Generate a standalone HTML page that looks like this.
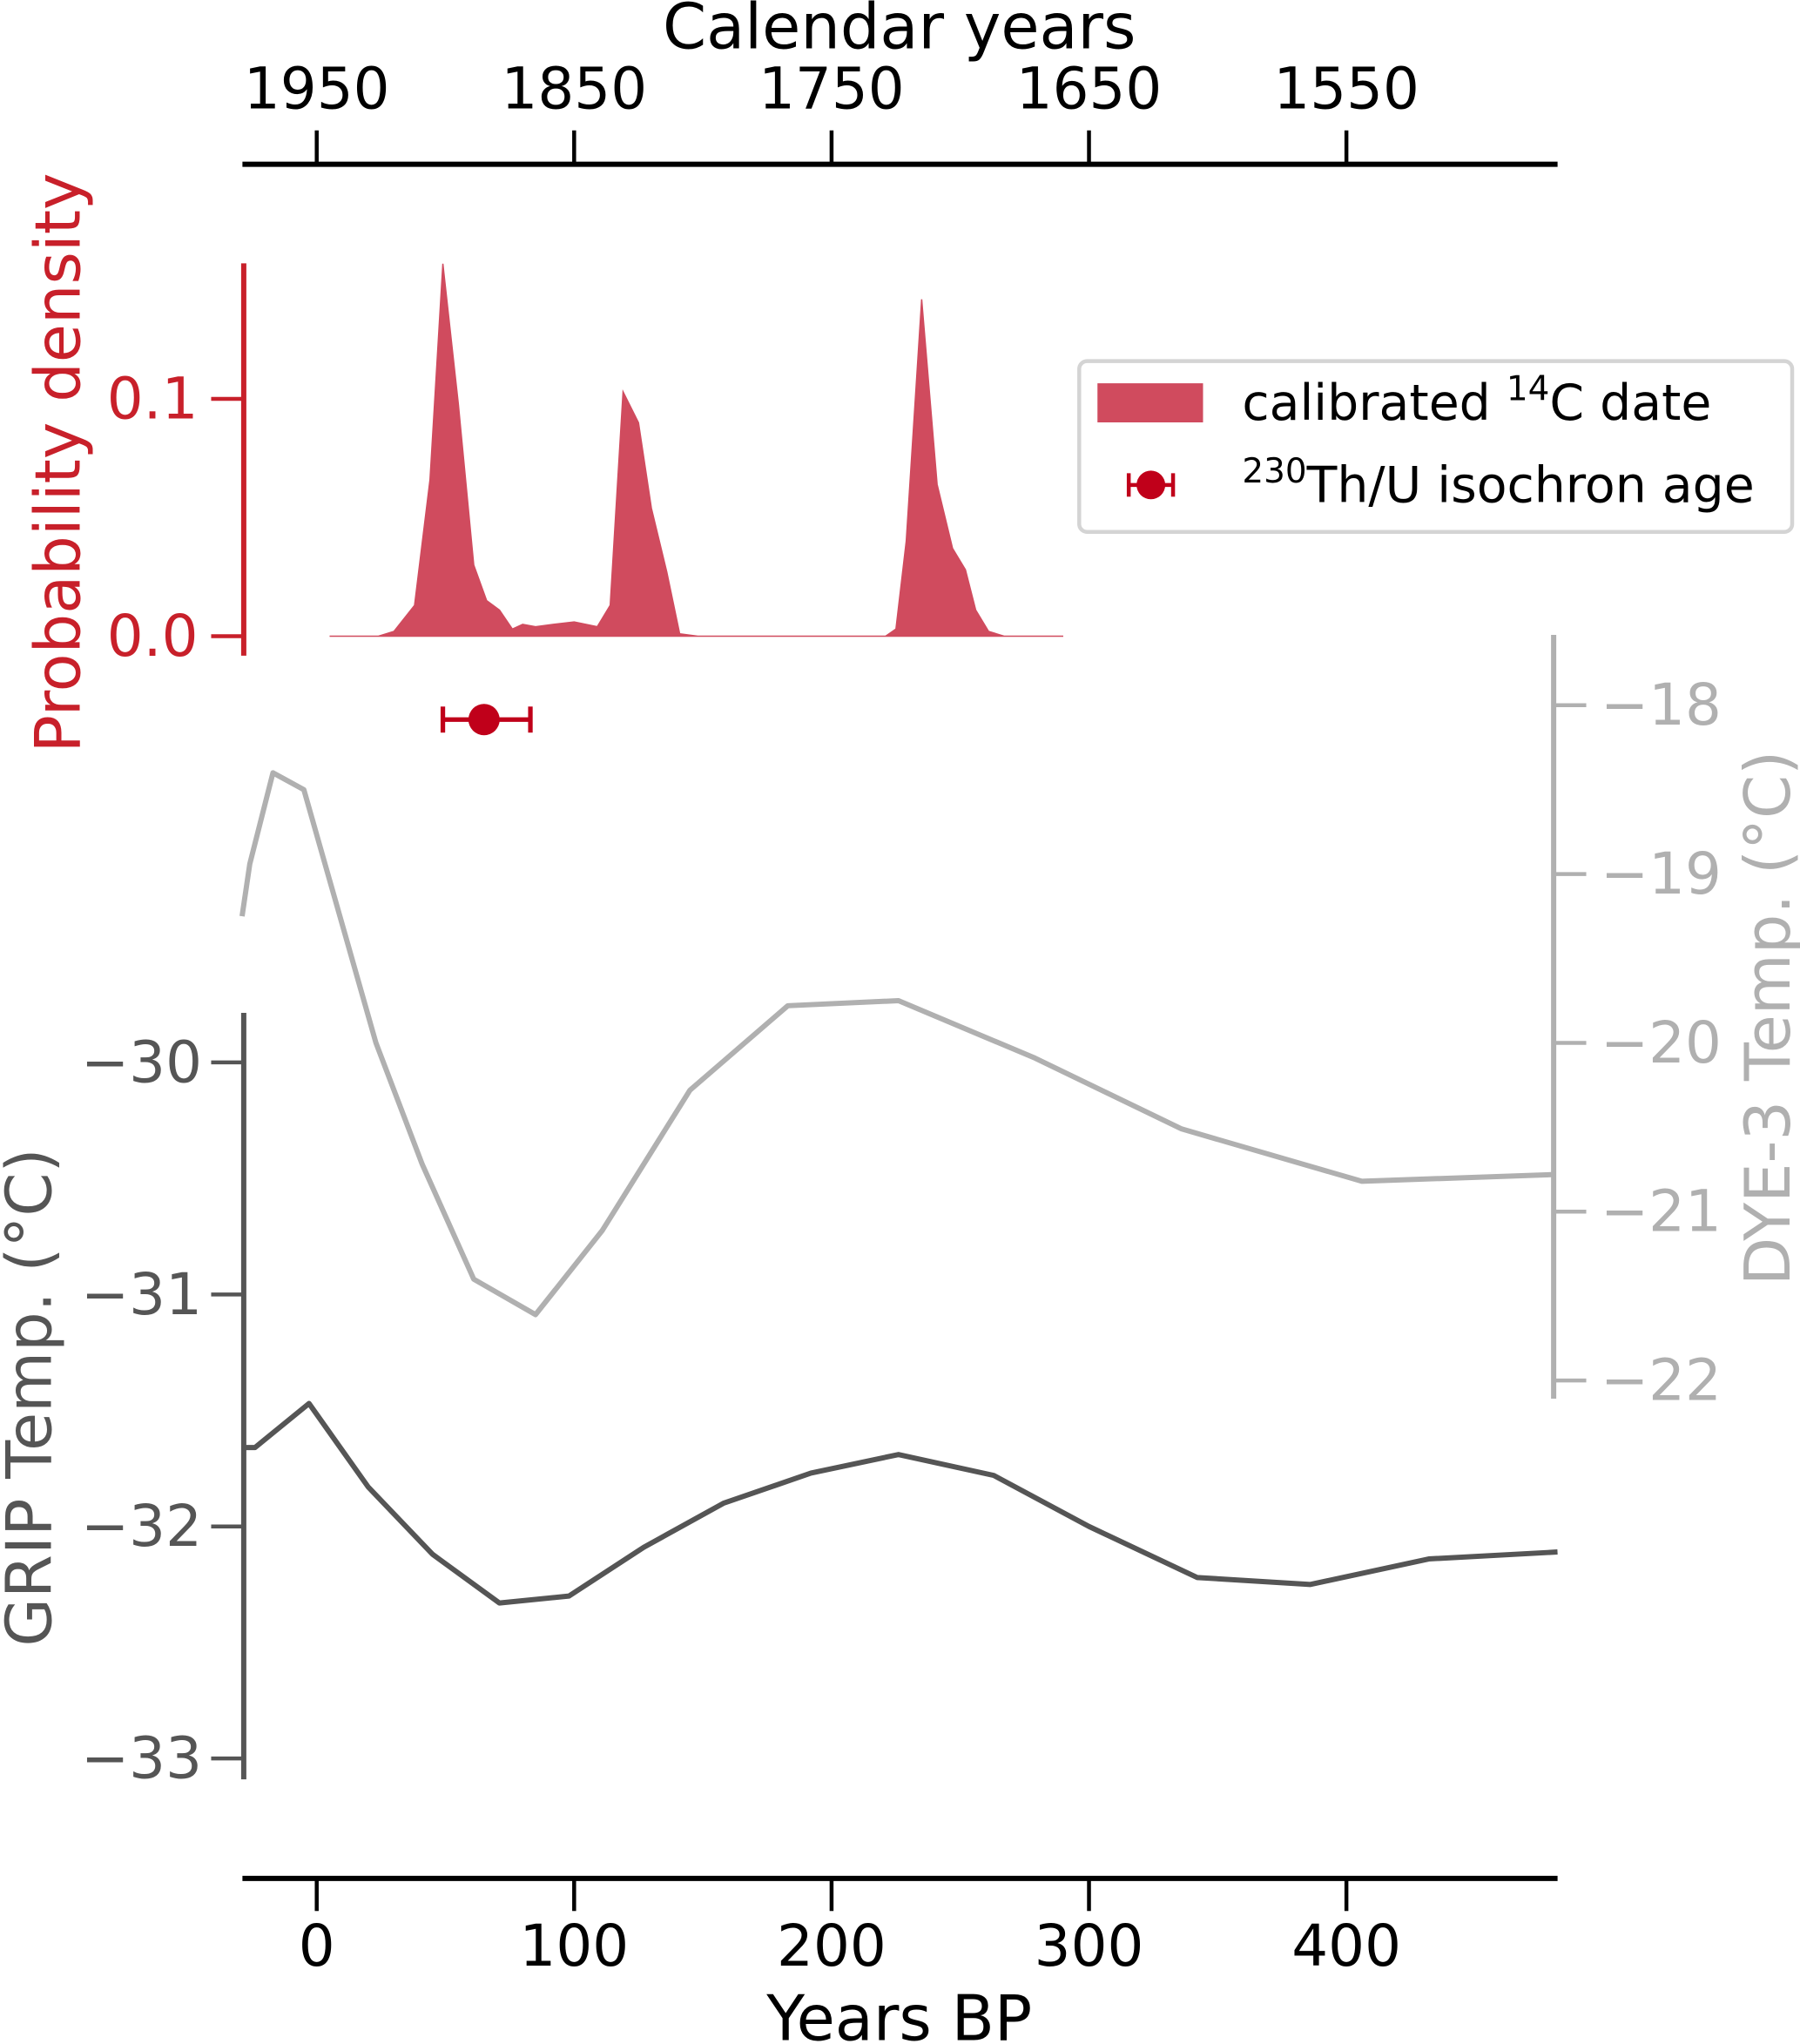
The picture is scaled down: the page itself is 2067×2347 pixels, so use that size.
<!DOCTYPE html>
<html><head><meta charset="utf-8"><style>
html,body{margin:0;padding:0;background:#fff;}
svg{display:block;font-family:"DejaVu Sans","Liberation Sans",sans-serif;}
</style></head><body>
<svg id="chart" width="2067" height="2347" viewBox="0 0 1381 1568" xmlns="http://www.w3.org/2000/svg"></svg>
<script>
// ---- data ----
const bpTicks = [0, 100, 200, 300, 400];
const calTicks = [1950, 1850, 1750, 1650, 1550];
const gripTicks = [-30, -31, -32, -33];
const dyeTicks = [-18, -19, -20, -21, -22];
const probTicks = [0.0, 0.1];
const gripYears = [-29, -24, -3, 20, 45, 71, 98, 127, 158, 192, 226, 263, 300, 342, 386, 432, 482];
const gripTemps = [-31.66, -31.66, -31.47, -31.83, -32.12, -32.33, -32.30, -32.09, -31.90, -31.77, -31.69, -31.78, -32.00, -32.22, -32.25, -32.14, -32.11];
const dyeYears = [-29, -26, -17, -5, 9, 23, 41, 61, 85, 111, 145, 183, 226, 279, 336, 406, 481];
const dyeTemps = [-19.25, -18.94, -18.40, -18.50, -19.25, -20.00, -20.72, -21.40, -21.61, -21.11, -20.28, -19.78, -19.75, -20.09, -20.51, -20.82, -20.78];
const probYears = [5, 24, 30, 38, 44, 49, 55, 61, 66, 71, 76, 80, 85, 92, 100, 109, 114, 119, 125, 130, 136, 141, 148, 221, 225, 229, 235, 241, 247, 252, 256, 261, 267, 290];
const probVals = [0, 0, 0.002, 0.013, 0.066, 0.157, 0.098, 0.030, 0.015, 0.011, 0.003, 0.005, 0.004, 0.005, 0.006, 0.004, 0.013, 0.103, 0.090, 0.054, 0.027, 0.001, 0, 0, 0.003, 0.040, 0.142, 0.064, 0.037, 0.028, 0.011, 0.002, 0, 0];
const thAge = [65];
const thErr = [16, 18];
// ---- scales ----
const X = bp => 243 + bp * 1.975;
const Ygrip = t => 815 - (t + 30) * 178;
const Ydye = t => 541 - (t + 18) * 129.5;
const Yprob = p => 488 - p * 1820;
const svg = document.getElementById('chart');
const NS = 'http://www.w3.org/2000/svg';
function mk(tag, attrs, text){const e=document.createElementNS(NS,tag);for(const k in attrs)e.setAttribute(k,attrs[k]);if(text!==undefined)e.textContent=text;svg.appendChild(e);return e;}
const TF = 44, TT = 48;
// top axis
let e = mk('line',{x1:186,y1:126,x2:1195,y2:126,stroke:'#000','stroke-width':4});


calTicks.forEach((c,i)=>{
  const x = X(1950 - c);
  let t = mk('line',{x1:x,y1:100,x2:x,y2:126,stroke:'#000','stroke-width':3});
  
  
  let l = mk('text',{x:x,y:83,'font-size':TF,'text-anchor':'middle',fill:'#000'},String(c));
  
  
});
e = mk('text',{x:690,y:37,'font-size':TT,'text-anchor':'middle',fill:'#000'},'Calendar years');


// bottom axis
e = mk('line',{x1:186,y1:1441,x2:1195,y2:1441,stroke:'#000','stroke-width':4});


bpTicks.forEach(b=>{
  const x = X(b);
  let t = mk('line',{x1:x,y1:1441,x2:x,y2:1466,stroke:'#000','stroke-width':3});
  
  
  let l = mk('text',{x:x,y:1508,'font-size':TF,'text-anchor':'middle',fill:'#000'},String(b));
  
  
});
e = mk('text',{x:690,y:1565,'font-size':TT,'text-anchor':'middle',fill:'#000'},'Years BP');


// probability axis
const red = '#c8202a';
e = mk('line',{x1:187,y1:202,x2:187,y2:503,stroke:red,'stroke-width':4});


probTicks.forEach(p=>{
  const y = Yprob(p);
  let t = mk('line',{x1:162,y1:y,x2:187,y2:y,stroke:red,'stroke-width':3});
  
  
  let l = mk('text',{x:152,y:y+15,'font-size':TF,'text-anchor':'end',fill:red},p.toFixed(1));
  
  
});
e = mk('text',{x:0,y:0,'font-size':TT,'text-anchor':'middle',fill:red,transform:'translate(61,355) rotate(-90)'},'Probability density');


// density area
let d = 'M' + X(probYears[0]) + ',' + Yprob(0);
probYears.forEach((b,i)=>{ d += ' L' + X(b) + ',' + Yprob(probVals[i]); });
d += ' L' + X(probYears[probYears.length-1]) + ',' + Yprob(0) + ' Z';
e = mk('path',{d:d,fill:'#d04b5e',stroke:'#d04b5e','stroke-width':1});


// Th/U point
const thRed = '#c0001a';
const ty = 552;
e = mk('line',{x1:X(thAge[0]-thErr[0]),y1:ty,x2:X(thAge[0]+thErr[1]),y2:ty,stroke:thRed,'stroke-width':3.5});


[thAge[0]-thErr[0], thAge[0]+thErr[1]].forEach(v=>{
  let c = mk('line',{x1:X(v),y1:ty-10,x2:X(v),y2:ty+10,stroke:thRed,'stroke-width':3.5});
  
  
});
e = mk('circle',{cx:X(thAge[0]),cy:ty,r:12,fill:thRed});


// GRIP axis
const dark = '#555555';
e = mk('line',{x1:187,y1:777,x2:187,y2:1365,stroke:dark,'stroke-width':4});


gripTicks.forEach(g=>{
  const y = Ygrip(g);
  let t = mk('line',{x1:162,y1:y,x2:187,y2:y,stroke:dark,'stroke-width':3});
  
  
  let l = mk('text',{x:155,y:y+15,'font-size':TF,'text-anchor':'end',fill:dark},'\u2212'+Math.abs(g));
  
  
});
e = mk('text',{x:0,y:0,'font-size':TT,'text-anchor':'middle',fill:dark,transform:'translate(39,1072) rotate(-90)'},'GRIP Temp. (°C)');


e = mk('polyline',{points:gripYears.map((b,i)=>X(b)+','+Ygrip(gripTemps[i])).join(' '),fill:'none',stroke:dark,'stroke-width':4,'stroke-linejoin':'round'});


// DYE-3 axis
const grey = '#b0b0b0';
e = mk('line',{x1:1192,y1:487,x2:1192,y2:1073,stroke:grey,'stroke-width':4});


dyeTicks.forEach(g=>{
  const y = Ydye(g);
  let t = mk('line',{x1:1192,y1:y,x2:1217,y2:y,stroke:grey,'stroke-width':3});
  
  
  let l = mk('text',{x:1228,y:y+15,'font-size':TF,'text-anchor':'start',fill:grey},'\u2212'+Math.abs(g));
  
  
});
e = mk('text',{x:0,y:0,'font-size':TT,'text-anchor':'middle',fill:grey,transform:'translate(1373,781) rotate(-90)'},'DYE-3 Temp. (°C)');


e = mk('polyline',{points:dyeYears.map((b,i)=>X(b)+','+Ydye(dyeTemps[i])).join(' '),fill:'none',stroke:grey,'stroke-width':4,'stroke-linejoin':'round'});


// legend
e = mk('rect',{x:828,y:277,width:547,height:131,rx:6,fill:'#fff',stroke:'#d4d4d4','stroke-width':3});


e = mk('rect',{x:842,y:294,width:81,height:30,fill:'#d04b5e'});


e = mk('text',{x:953,y:322,'font-size':38,fill:'#000'});
e.innerHTML = 'calibrated <tspan font-size="26" dy="-15">14</tspan><tspan dy="15">C date</tspan>';


e = mk('line',{x1:866,y1:372,x2:900,y2:372,stroke:thRed,'stroke-width':3});


[866,900].forEach(x=>{
  let c = mk('line',{x1:x,y1:363,x2:x,y2:381,stroke:thRed,'stroke-width':3});
  
  
});
e = mk('circle',{cx:883,cy:372,r:11,fill:thRed});


e = mk('text',{x:953,y:385,'font-size':38,fill:'#000'});
e.innerHTML = '<tspan font-size="26" dy="-15">230</tspan><tspan dy="15">Th/U isochron age</tspan>';


</script>
</body></html>
